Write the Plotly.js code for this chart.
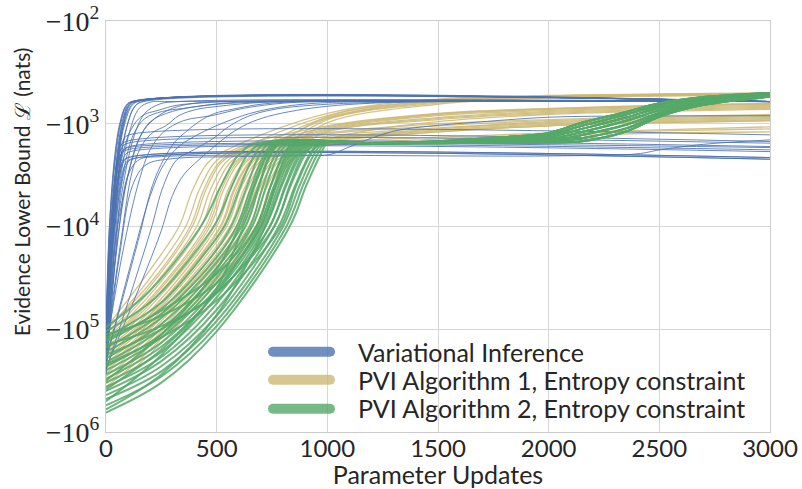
<!DOCTYPE html>
<html><head><meta charset="utf-8">
<script src="https://cdn.plot.ly/plotly-3.0.1.min.js"></script>
<style>
html,body{margin:0;padding:0;background:#fff;}
#chart{width:802px;height:489px;}
.legendlines path{stroke-linecap:round !important; stroke-dasharray:57px 300px !important;}
</style></head><body><div id="chart"></div>
<script>
// ---- Data: each run is a flat list of (parameter update, log10(-ELBO)) keyframes ----
const seriesNames = ["Variational Inference", "PVI Algorithm 1, Entropy constraint", "PVI Algorithm 2, Entropy constraint"];
const xTicks = [0, 500, 1000, 1500, 2000, 2500, 3000];
const yTickVals = [1e2, 1e3, 1e4, 1e5, 1e6];
const yTickText = ["\u221210<sup>2</sup>", "\u221210<sup>3</sup>", "\u221210<sup>4</sup>", "\u221210<sup>5</sup>", "\u221210<sup>6</sup>"];
const xTitle = "Parameter Updates";
const yTitle = "Evidence Lower Bound \u2112 (nats)";

const viRuns = [
  [0,5.00, 15,4.0, 40,3.3, 62,3.0, 88,2.83, 115,2.784, 3000,2.784],
  [0,5.10, 18,4.0, 45,3.3, 67,3.0, 92,2.83, 120,2.784, 3000,2.784],
  [0,5.20, 22,4.05, 50,3.3, 72,3.0, 97,2.83, 125,2.784, 3000,2.784],
  [0,5.30, 26,4.0, 55,3.3, 77,3.0, 102,2.83, 130,2.784, 3000,2.784],
  [0,5.05, 20,4.0, 50,3.35, 78,3.02, 108,2.84, 140,2.784, 3000,2.784],
  [0,5.15, 25,4.0, 58,3.3, 85,3.0, 115,2.83, 145,2.784, 3000,2.784],
  [0,5.25, 30,4.0, 65,3.35, 95,3.02, 128,2.84, 165,2.784, 3000,2.784],
  [0,5.35, 38,4.0, 75,3.4, 110,3.05, 150,2.85, 200,2.79, 280,2.784, 3000,2.784],
  [0,5.08, 16,4.0, 42,3.3, 64,3.0, 90,2.83, 118,2.784, 3000,2.784],
  [0,5.22, 24,4.0, 52,3.3, 74,3.0, 99,2.83, 128,2.784, 3000,2.784],
  [0,5.32, 28,4.0, 58,3.3, 80,3.0, 105,2.83, 135,2.784, 3000,2.784],
  [0,5.12, 32,4.0, 66,3.35, 98,3.0, 130,2.83, 170,2.784, 3000,2.784],
  [0,5.42, 45,4.1, 90,3.45, 130,3.1, 175,2.9, 240,2.81, 330,2.784, 3000,2.784],
  [0,5.10, 45,4.1, 100,3.5, 150,3.15, 200,2.98, 300,2.88, 450,2.82, 600,2.79, 800,2.784, 3000,2.784],
  [0,5.20, 80,4.2, 150,3.55, 200,3.25, 260,3.08, 350,2.97, 480,2.92, 620,2.85, 800,2.80, 1000,2.784, 3000,2.784],
  [0,5.30, 120,4.3, 200,3.7, 260,3.4, 330,3.22, 420,3.1, 520,3.0, 650,2.9, 780,2.84, 950,2.80, 1300,2.784, 3000,2.784],
  [0,5.00, 40,4.0, 85,3.4, 125,3.1, 175,2.95, 255,2.88, 350,2.85, 500,2.81, 700,2.79, 900,2.784, 3000,2.784],
  [0,5.40, 200,4.05, 260,3.6, 320,3.35, 400,3.25, 480,3.15, 560,3.02, 640,2.93, 760,2.86, 1000,2.81, 1300,2.79, 1600,2.784, 3000,2.784],
  [0,5.15, 60,4.0, 110,3.4, 160,3.1, 220,2.95, 300,2.85, 400,2.80, 550,2.784, 3000,2.784],
  [0,5.30, 150,4.1, 210,3.6, 260,3.35, 310,3.18, 360,3.08, 420,2.98, 490,2.9, 570,2.86, 700,2.81, 900,2.784, 3000,2.784],
  [0,5.20, 70,4.1, 120,3.45, 165,3.2, 215,3.08, 270,3.02, 330,2.92, 410,2.86, 510,2.83, 650,2.80, 800,2.784, 3000,2.784],
  [0,5.00, 35,4.0, 75,3.3, 115,3.05, 165,2.92, 235,2.87, 320,2.82, 420,2.80, 550,2.784, 3000,2.784],
  [0,5.38, 240,4.1, 300,3.7, 350,3.5, 420,3.35, 490,3.22, 560,3.1, 640,3.0, 730,2.93, 860,2.87, 1000,2.83, 1200,2.80, 1500,2.784, 3000,2.784],
  [0,5.30, 60,4.3, 120,3.6, 180,3.4, 300,3.34, 600,3.32, 900,3.31, 1012,3.30, 1089,3.235, 1200,3.14, 1315,3.065, 1477,3.02, 1703,2.98, 2006,2.936, 2400,2.925, 3000,2.922],
  [0,5.35, 50,4.2, 100,3.5, 150,3.35, 250,3.32, 2020,3.313, 2399,3.293, 2503,3.254, 2700,3.2, 3000,3.157],
  [0,5.10, 20,4.1, 45,3.45, 65,3.22, 90,3.173, 3000,3.173],
  [0,5.20, 25,4.1, 50,3.45, 72,3.23, 100,3.189, 3000,3.189],
  [0,5.30, 30,4.2, 58,3.45, 80,3.26, 105,3.222, 3000,3.222],
  [0,5.05, 22,4.1, 48,3.5, 70,3.29, 95,3.254, 3000,3.254],
  [0,5.40, 35,4.2, 62,3.5, 85,3.31, 110,3.271, 3000,3.271],
  [0,5.15, 26,4.2, 52,3.55, 75,3.37, 98,3.329, 3000,3.329],
  [0,5.25, 30,4.2, 58,3.55, 80,3.37, 103,3.329, 3000,3.329],
  [0,5.35, 36,4.3, 64,3.6, 88,3.39, 112,3.345, 3000,3.345],
  [0,5.45, 42,4.3, 70,3.6, 95,3.39, 118,3.345, 3000,3.345],
  [0,5.20, 28,4.1, 55,3.4, 80,3.15, 105,3.108, 3000,3.108],
  [0,5.10, 25,4.1, 52,3.45, 76,3.26, 100,3.232, 3000,3.232]
];

const pvi1Runs = [
  [0,4.99, 200,4.42, 330,4.0, 390,3.65, 460,3.38, 560,3.24, 1000,2.90, 1500,2.76, 2000,2.725, 2500,2.71, 3000,2.70],
  [0,5.02, 200,4.50, 360,4.0, 420,3.65, 490,3.38, 590,3.24, 1000,3.02, 1500,2.90, 2000,2.85, 2500,2.82, 3000,2.80],
  [0,5.05, 200,4.58, 390,4.0, 450,3.65, 520,3.38, 620,3.24, 1000,2.92, 1500,2.77, 2000,2.73, 2500,2.715, 3000,2.705],
  [0,5.08, 200,4.62, 410,4.0, 470,3.65, 540,3.38, 640,3.24, 1000,3.10, 1500,3.02, 2000,2.97, 2500,2.94, 3000,2.92],
  [0,5.10, 200,4.66, 430,4.0, 490,3.65, 560,3.38, 660,3.24, 1000,3.04, 1500,2.91, 2000,2.86, 2500,2.83, 3000,2.81],
  [0,5.12, 200,4.70, 450,4.0, 510,3.65, 580,3.38, 680,3.24, 1000,2.94, 1500,2.78, 2000,2.735, 2500,2.72, 3000,2.71],
  [0,5.15, 200,4.75, 470,4.0, 530,3.65, 600,3.38, 700,3.24, 1000,3.12, 1500,3.04, 2000,2.98, 2500,2.95, 3000,2.93],
  [0,5.18, 200,4.78, 490,4.0, 550,3.65, 620,3.38, 720,3.24, 1000,3.05, 1500,2.92, 2000,2.87, 2500,2.84, 3000,2.82],
  [0,5.20, 200,4.82, 500,4.0, 560,3.65, 630,3.38, 730,3.24, 1000,2.95, 1500,2.79, 2000,2.74, 2500,2.72, 3000,2.71],
  [0,5.22, 200,4.85, 515,4.0, 575,3.65, 645,3.38, 745,3.24, 1000,3.18, 1500,3.13, 2000,3.09, 2500,3.06, 3000,3.03],
  [0,5.25, 200,4.88, 530,4.0, 590,3.65, 660,3.38, 760,3.24, 1000,3.06, 1500,2.94, 2000,2.88, 2500,2.85, 3000,2.83],
  [0,5.28, 200,4.90, 545,4.0, 605,3.65, 675,3.38, 775,3.24, 1000,3.14, 1500,3.05, 2000,2.99, 2500,2.96, 3000,2.94],
  [0,5.30, 200,4.93, 560,4.0, 620,3.65, 690,3.38, 790,3.24, 1000,2.96, 1500,2.80, 2000,2.745, 2500,2.725, 3000,2.715],
  [0,5.33, 200,4.96, 575,4.0, 635,3.65, 705,3.38, 805,3.24, 1000,3.07, 1500,2.95, 2000,2.89, 2500,2.86, 3000,2.84],
  [0,5.36, 200,4.98, 590,4.0, 650,3.65, 720,3.38, 820,3.24, 1000,3.15, 1500,3.06, 2000,3.00, 2500,2.97, 3000,2.95],
  [0,5.38, 200,5.00, 600,4.0, 660,3.65, 730,3.38, 830,3.24, 1000,2.99, 1500,2.81, 2000,2.75, 2500,2.73, 3000,2.72],
  [0,5.40, 200,5.03, 615,4.0, 675,3.65, 745,3.38, 845,3.24, 1000,3.20, 1500,3.15, 2000,3.10, 2500,3.07, 3000,3.05],
  [0,5.43, 200,5.06, 630,4.0, 690,3.65, 760,3.38, 860,3.24, 1000,3.08, 1500,2.96, 2000,2.90, 2500,2.87, 3000,2.85],
  [0,5.46, 200,5.10, 645,4.0, 705,3.65, 775,3.38, 875,3.24, 1000,3.16, 1500,3.07, 2000,3.01, 2500,2.98, 3000,2.96],
  [0,5.50, 200,5.13, 660,4.0, 720,3.65, 790,3.38, 890,3.24, 1000,3.17, 1500,3.08, 2000,3.02, 2500,2.99, 3000,2.97],
  [0,5.53, 200,5.16, 675,4.0, 735,3.65, 805,3.38, 905,3.22, 1100,3.10, 1500,2.98, 2000,2.91, 2500,2.88, 3000,2.86],
  [0,5.56, 200,5.20, 690,4.0, 750,3.65, 820,3.38, 920,3.24, 1000,3.18, 1500,3.08, 2000,3.02, 2500,2.99, 3000,2.97],
  [0,5.60, 200,5.24, 700,4.0, 760,3.65, 830,3.38, 930,3.24, 1000,3.21, 1500,3.17, 2000,3.12, 2500,3.09, 3000,3.08],
  [0,5.00, 200,4.55, 380,4.0, 440,3.65, 510,3.38, 610,3.24, 1000,3.09, 1500,3.00, 2000,2.96, 2500,2.93, 3000,2.91],
  [0,5.14, 200,4.72, 460,4.0, 520,3.65, 590,3.38, 690,3.24, 1000,3.03, 1500,2.905, 2000,2.855, 2500,2.825, 3000,2.805],
  [0,5.26, 200,4.86, 520,4.0, 580,3.65, 650,3.38, 750,3.24, 1000,2.93, 1500,2.775, 2000,2.73, 2500,2.715, 3000,2.705]
];

// PVI Algorithm 2: early rise per run, then one of the late-phase profiles
const pvi2EarlyRuns = [
  [0,4.98, 200,4.62, 380,4.15, 450,3.92, 520,3.6, 600,3.3, 680,3.19],
  [0,5.02, 220,4.70, 420,4.2, 500,3.95, 570,3.6, 640,3.3, 710,3.19],
  [0,5.08, 250,4.74, 450,4.25, 540,3.98, 600,3.65, 660,3.35, 720,3.19],
  [0,5.12, 250,4.80, 480,4.28, 570,3.98, 630,3.65, 690,3.32, 740,3.19],
  [0,5.18, 250,4.85, 500,4.3, 590,4.0, 650,3.65, 710,3.32, 760,3.19],
  [0,5.22, 250,4.89, 500,4.35, 610,4.0, 670,3.62, 730,3.3, 780,3.19],
  [0,5.28, 250,4.95, 500,4.4, 630,4.0, 690,3.62, 745,3.3, 790,3.19],
  [0,5.32, 250,5.00, 500,4.45, 650,4.0, 710,3.6, 765,3.3, 810,3.19],
  [0,5.36, 250,5.05, 500,4.5, 660,4.0, 725,3.6, 780,3.3, 830,3.19],
  [0,5.40, 250,5.08, 500,4.55, 680,4.0, 745,3.6, 800,3.3, 850,3.19],
  [0,5.44, 250,5.13, 500,4.60, 700,4.0, 765,3.6, 820,3.3, 870,3.19],
  [0,5.48, 250,5.17, 500,4.64, 710,4.0, 780,3.6, 840,3.3, 890,3.19],
  [0,5.52, 250,5.22, 500,4.69, 720,4.0, 795,3.6, 860,3.3, 910,3.19],
  [0,5.56, 250,5.27, 500,4.75, 740,4.0, 815,3.6, 880,3.3, 930,3.19],
  [0,5.60, 250,5.31, 500,4.81, 760,4.0, 835,3.6, 900,3.3, 950,3.19],
  [0,5.64, 250,5.36, 500,4.87, 780,4.0, 855,3.6, 920,3.3, 965,3.19],
  [0,5.68, 250,5.41, 500,4.92, 800,4.0, 875,3.6, 940,3.3, 980,3.19],
  [0,5.74, 250,5.46, 500,4.97, 815,4.0, 890,3.6, 955,3.3, 990,3.19],
  [0,5.81, 250,5.52, 500,5.02, 830,4.0, 905,3.6, 970,3.3, 1000,3.19],
  [0,5.05, 250,4.87, 500,4.55, 700,4.0, 770,3.6, 830,3.3, 880,3.19],
  [0,5.15, 250,4.97, 500,4.65, 740,4.0, 810,3.6, 870,3.3, 920,3.19],
  [0,5.70, 250,5.25, 500,4.60, 620,4.0, 690,3.6, 740,3.3, 790,3.19],
  [0,5.50, 250,5.05, 500,4.42, 600,4.0, 665,3.62, 720,3.32, 770,3.19],
  [0,5.25, 250,5.00, 500,4.64, 760,4.0, 830,3.6, 890,3.3, 940,3.19],
  [0,5.78, 250,5.44, 500,4.86, 720,4.0, 790,3.6, 850,3.3, 900,3.19],
  [0,5.34, 250,5.08, 500,4.72, 790,4.0, 860,3.6, 925,3.3, 970,3.19],
  [0,5.10, 250,4.82, 500,4.46, 680,4.0, 745,3.6, 805,3.3, 850,3.19],
  [0,5.58, 250,5.20, 500,4.63, 690,4.0, 760,3.6, 815,3.3, 865,3.19]
];
const pvi2LateX = [1200, 1500, 1800, 2000, 2150, 2350, 2500, 2700, 3000];
const pvi2LateProfiles = [
  [3.19, 3.170, 3.130, 3.090, 2.990, 2.885, 2.800, 2.740, 2.700],
  [3.19, 3.175, 3.145, 3.110, 3.020, 2.910, 2.820, 2.750, 2.705],
  [3.19, 3.180, 3.155, 3.130, 3.050, 2.940, 2.845, 2.765, 2.710],
  [3.19, 3.182, 3.165, 3.150, 3.080, 2.970, 2.870, 2.780, 2.715],
  [3.19, 3.185, 3.175, 3.165, 3.110, 3.010, 2.895, 2.795, 2.725],
  [3.19, 3.187, 3.180, 3.175, 3.140, 3.045, 2.915, 2.805, 2.730],
  [3.19, 3.189, 3.186, 3.183, 3.170, 3.075, 2.932, 2.816, 2.738]
];
const pvi2ProfileOfRun = [0,2,4,1,3,5,6,0,2,4,1,3,5,6,0,2,4,1,3,5,6,2,3,4,1,0,6,5];

// ---- Styling ----
const colors = ["#4C72B0", "#CCB974", "#55A868"];
const widths = [1.0, 1.3, 2.0];
const sansFont = "Lato, 'Open Sans', sans-serif";
const textColor = "#262626";

function runToXY(flat) {
  const x = [], y = [];
  for (let i = 0; i < flat.length; i += 2) { x.push(flat[i]); y.push(Math.pow(10, flat[i + 1])); }
  return {x, y};
}
function makeTrace(flat, s) {
  const p = runToXY(flat);
  return {x: p.x, y: p.y, type: 'scatter', mode: 'lines', showlegend: false, hoverinfo: 'skip',
    line: {color: colors[s], width: widths[s], shape: 'spline', smoothing: 1.0}, opacity: 0.85};
}

// draw order: PVI 1, VI, PVI 2
const traces = [];
pvi1Runs.forEach(r => traces.push(makeTrace(r, 1)));
viRuns.forEach(r => traces.push(makeTrace(r, 0)));
pvi2EarlyRuns.forEach((r, i) => {
  const prof = pvi2LateProfiles[pvi2ProfileOfRun[i]];
  const full = r.slice();
  pvi2LateX.forEach((xv, j) => { full.push(xv, prof[j]); });
  traces.push(makeTrace(full, 2));
});
// legend entries (one legend box per row)
const legendIds = ['legend', 'legend2', 'legend3'];
seriesNames.forEach((n, s) => {
  traces.push({x: [null], y: [null], type: 'scatter', mode: 'lines', name: n, showlegend: true,
    legend: legendIds[s], hoverinfo: 'skip', line: {color: colors[s], width: 10}, opacity: 0.8});
});

const legendRowY = [0.1946, 0.1265, 0.0560];
function legendBox(i) {
  return {x: 0.244, y: legendRowY[i], xanchor: 'left', yanchor: 'middle', bgcolor: 'rgba(0,0,0,0)',
    font: {family: sansFont, size: 25, color: textColor}, itemwidth: 80, borderwidth: 0};
}

const layout = {
  width: 802, height: 489,
  margin: {l: 106, r: 32, t: 21, b: 57, pad: 0},
  paper_bgcolor: '#ffffff', plot_bgcolor: '#ffffff',
  showlegend: true,
  legend: legendBox(0), legend2: legendBox(1), legend3: legendBox(2),
  xaxis: {range: [0, 3000], tickvals: xTicks, ticktext: xTicks.map(String), showgrid: true, gridcolor: '#d6d6d6', gridwidth: 1,
    zeroline: false, showline: true, mirror: true, linecolor: '#cccccc', linewidth: 1,
    ticks: '', ticklabelstandoff: -5, tickfont: {family: sansFont, size: 24, color: textColor},
    title: {text: xTitle, font: {family: sansFont, size: 25, color: textColor}, standoff: 1}},
  yaxis: {type: 'log', range: [6, 2], tickvals: yTickVals, ticktext: yTickText, showgrid: true, gridcolor: '#d6d6d6', gridwidth: 1,
    zeroline: false, showline: true, mirror: true, linecolor: '#cccccc', linewidth: 1,
    ticks: '', tickfont: {family: "'Liberation Serif', 'DejaVu Serif', serif", size: 28, color: textColor}},
  annotations: [{text: yTitle, xref: 'paper', yref: 'paper', x: -0.127, y: 0.585, xanchor: 'center', yanchor: 'middle',
    textangle: -90, showarrow: false, font: {family: sansFont, size: 21, color: textColor}}]
};

Plotly.newPlot('chart', traces, layout, {displayModeBar: false, staticPlot: true});
</script></body></html>
